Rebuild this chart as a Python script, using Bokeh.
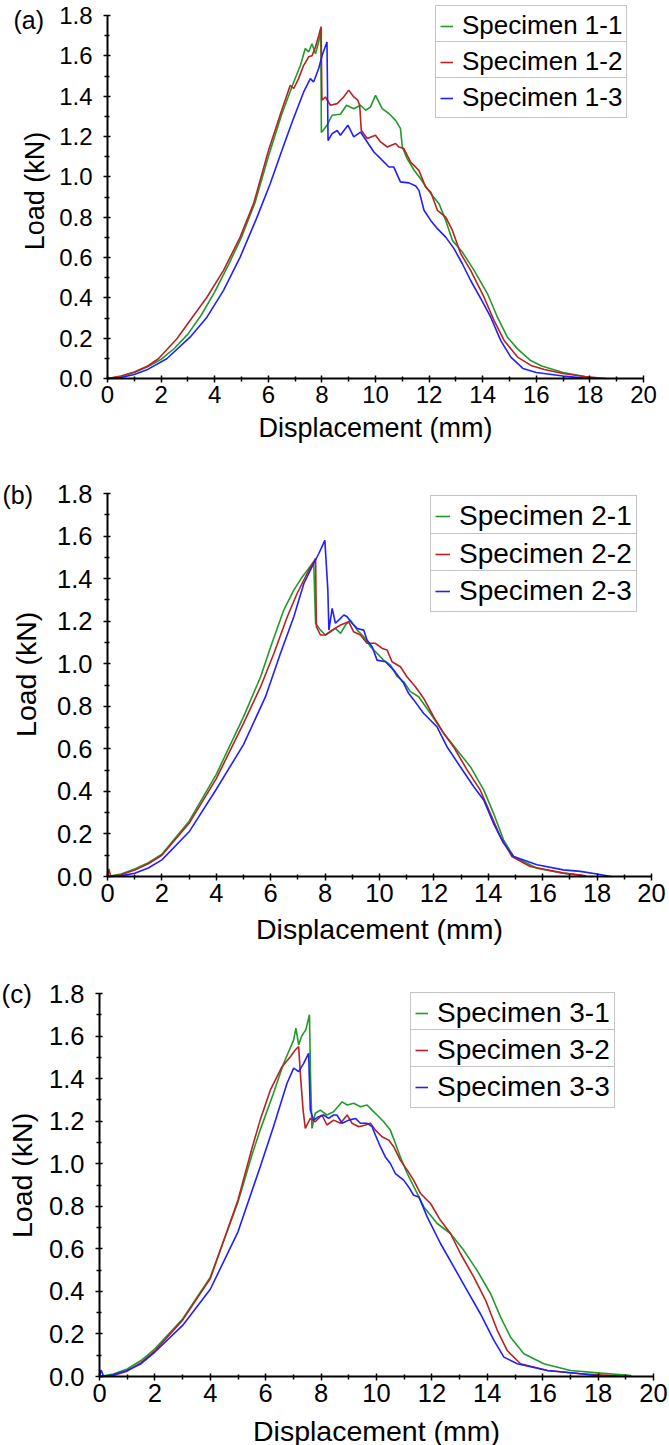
import math
from bokeh.plotting import figure
from bokeh.layouts import column
from bokeh.models import Range1d, Legend, LegendItem, Label, FixedTicker, NumeralTickFormatter
from bokeh.embed import file_html
from bokeh.resources import INLINE

# ---------------- data ----------------
x_ticks = [0, 2, 4, 6, 8, 10, 12, 14, 16, 18, 20]
x_minor = [1, 3, 5, 7, 9, 11, 13, 15, 17, 19]
y_ticks = [0.0, 0.2, 0.4, 0.6, 0.8, 1.0, 1.2, 1.4, 1.6, 1.8]
y_minor = [0.1, 0.3, 0.5, 0.7, 0.9, 1.1, 1.3, 1.5, 1.7]

panel_tags = ["(a)", "(b)", "(c)"]
x_title = "Displacement (mm)"
y_title = "Load (kN)"
labels_a = ["Specimen 1-1", "Specimen 1-2", "Specimen 1-3"]
labels_b = ["Specimen 2-1", "Specimen 2-2", "Specimen 2-3"]
labels_c = ["Specimen 3-1", "Specimen 3-2", "Specimen 3-3"]

# Panel (a)
x_1_1 = [0, 0.5, 1, 1.5, 2, 2.5, 3, 3.5, 4, 4.5, 5, 5.5, 6, 6.5, 6.95, 7.2, 7.38, 7.51, 7.63, 7.76, 7.88, 7.96,
         7.98, 8.1, 8.19, 8.38, 8.69, 8.92, 9.19, 9.44, 9.63, 9.81, 10.0, 10.25, 10.5, 10.75, 10.93, 11.0, 11.18,
         11.43, 11.68, 12.06, 12.37, 12.62, 12.87, 13.24, 13.68, 14.18, 14.55, 14.92, 15.3, 15.79, 16.2, 17.0,
         17.6, 18.2]
y_1_1 = [0.0, 0.01, 0.03, 0.058, 0.095, 0.15, 0.22, 0.315, 0.43, 0.56, 0.70, 0.87, 1.10, 1.31, 1.47, 1.553,
         1.636, 1.62, 1.66, 1.61, 1.67, 1.72, 1.22, 1.24, 1.256, 1.305, 1.31, 1.355, 1.338, 1.355, 1.33, 1.346,
         1.404, 1.338, 1.314, 1.28, 1.24, 1.148, 1.09, 1.035, 0.99, 0.917, 0.867, 0.784, 0.685, 0.627, 0.536,
         0.42, 0.304, 0.205, 0.147, 0.089, 0.062, 0.03, 0.015, 0.0]
x_1_2 = [0, 0.5, 1, 1.5, 1.9, 2.59, 3.08, 3.71, 4.33, 4.95, 5.45, 6.01, 6.5, 6.82, 6.95, 7.13, 7.32, 7.51, 7.63,
         7.76, 7.88, 7.97, 8.0, 8.13, 8.32, 8.57, 8.81, 9.0, 9.19, 9.34, 9.41, 9.47, 9.69, 10.0, 10.19, 10.44,
         10.75, 10.87, 11.06, 11.31, 11.62, 11.87, 12.06, 12.31, 12.62, 12.87, 13.18, 13.55, 14.05, 14.42, 14.8,
         15.3, 15.8, 16.3, 17.0, 17.8, 18.6]
y_1_2 = [0.0, 0.012, 0.032, 0.062, 0.098, 0.197, 0.288, 0.403, 0.536, 0.701, 0.867, 1.132, 1.33, 1.454, 1.438,
         1.487, 1.553, 1.595, 1.60, 1.644, 1.70, 1.745, 1.38, 1.396, 1.355, 1.363, 1.396, 1.43, 1.396, 1.38,
         1.355, 1.23, 1.19, 1.206, 1.173, 1.148, 1.165, 1.148, 1.14, 1.073, 1.032, 0.949, 0.925, 0.834, 0.80,
         0.734, 0.619, 0.536, 0.403, 0.288, 0.189, 0.106, 0.065, 0.045, 0.025, 0.01, 0.0]
x_1_3 = [0, 0.5, 1, 1.5, 2.21, 3.08, 3.71, 4.33, 4.95, 5.58, 6.07, 6.51, 6.89, 7.32, 7.57, 7.69, 7.88, 8.01,
         8.19, 8.23, 8.38, 8.57, 8.69, 8.97, 9.19, 9.44, 9.69, 9.94, 10.19, 10.5, 10.68, 10.93, 11.25, 11.5,
         11.62, 11.81, 12.06, 12.31, 12.62, 12.93, 13.24, 13.55, 13.93, 14.3, 14.67, 15.05, 15.5, 16.0, 17.0, 18.0]
y_1_3 = [0.0, 0.005, 0.02, 0.045, 0.098, 0.205, 0.304, 0.437, 0.602, 0.80, 0.966, 1.132, 1.272, 1.421, 1.487,
         1.47, 1.537, 1.603, 1.669, 1.18, 1.214, 1.23, 1.206, 1.256, 1.198, 1.222, 1.173, 1.123, 1.09, 1.049,
         1.049, 0.975, 0.97, 0.955, 0.933, 0.834, 0.784, 0.743, 0.701, 0.644, 0.569, 0.486, 0.396, 0.304, 0.189,
         0.106, 0.05, 0.03, 0.012, 0.0]

# Panel (b)
x_2_1 = [0, 0.5, 1, 1.5, 2, 3, 4, 5, 5.63, 6.0, 6.48, 6.85, 7.16, 7.58, 7.65, 7.83, 8.01, 8.2, 8.38, 8.57, 8.75,
         8.93, 9.18, 9.42, 9.67, 9.91, 10.15, 10.4, 10.65, 10.89, 11.13, 11.44, 11.87, 12.36, 12.85, 13.34, 13.83,
         14.19, 14.56, 14.93, 15.79, 16.76, 17.5]
y_2_1 = [0.0, 0.012, 0.035, 0.065, 0.105, 0.26, 0.48, 0.75, 0.939, 1.08, 1.252, 1.346, 1.408, 1.479, 1.19, 1.158,
         1.135, 1.15, 1.166, 1.143, 1.182, 1.205, 1.158, 1.127, 1.08, 1.049, 1.017, 0.994, 0.94, 0.915, 0.87,
         0.845, 0.767, 0.673, 0.595, 0.516, 0.407, 0.298, 0.172, 0.094, 0.039, 0.016, 0.005]
x_2_2 = [0, 0.05, 0.12, 0.5, 1, 1.5, 2, 3, 4, 5, 5.63, 6.12, 6.61, 6.97, 7.34, 7.65, 7.68, 7.83, 8.01, 8.26, 8.57,
         8.87, 9.05, 9.3, 9.54, 9.85, 10.1, 10.28, 10.46, 10.77, 11.01, 11.32, 11.62, 11.99, 12.36, 12.72, 13.22,
         13.7, 14.07, 14.44, 14.87, 15.54, 16.76, 17.6]
y_2_2 = [0.0, 0.035, 0.0, 0.008, 0.03, 0.06, 0.1, 0.25, 0.46, 0.72, 0.892, 1.049, 1.221, 1.33, 1.424, 1.495,
         1.174, 1.135, 1.135, 1.158, 1.182, 1.197, 1.15, 1.135, 1.096, 1.096, 1.072, 1.064, 1.009, 0.986, 0.939,
         0.892, 0.838, 0.751, 0.673, 0.61, 0.501, 0.407, 0.298, 0.188, 0.094, 0.047, 0.016, 0.003]
x_2_3 = [0, 0.5, 1, 1.5, 2, 3, 4, 5, 5.81, 6.36, 6.85, 7.22, 7.58, 7.77, 7.99, 8.1, 8.14, 8.26, 8.38, 8.5, 8.69,
         8.81, 8.99, 9.18, 9.42, 9.54, 9.73, 9.91, 10.22, 10.52, 10.89, 11.07, 11.26, 11.62, 12.11, 12.48, 12.97,
         13.46, 13.83, 14.19, 14.56, 14.93, 15.79, 16.76, 17.38, 18.0, 18.5]
y_2_3 = [0.0, 0.003, 0.015, 0.04, 0.078, 0.21, 0.41, 0.62, 0.845, 1.049, 1.221, 1.377, 1.471, 1.518, 1.58, 1.35,
         1.158, 1.26, 1.19, 1.205, 1.229, 1.221, 1.19, 1.166, 1.158, 1.111, 1.08, 1.017, 1.009, 0.97, 0.908,
         0.861, 0.83, 0.767, 0.704, 0.61, 0.516, 0.423, 0.36, 0.25, 0.157, 0.094, 0.055, 0.031, 0.024, 0.012, 0.0]

# Panel (c)
x_3_1 = [0, 0.5, 1, 1.5, 2, 3, 4, 5, 5.5, 5.8, 6.28, 6.65, 7.01, 7.09, 7.19, 7.3, 7.45, 7.58, 7.62, 7.67, 7.79,
         7.97, 8.21, 8.45, 8.76, 8.94, 9.18, 9.42, 9.66, 9.84, 10.02, 10.26, 10.5, 10.68, 10.86, 11.11, 11.23,
         11.71, 12.19, 12.67, 13.15, 13.63, 14.12, 14.48, 14.84, 15.32, 16.04, 17.0, 18.09, 19.2]
y_3_1 = [0.0, 0.012, 0.035, 0.075, 0.13, 0.27, 0.467, 0.82, 1.04, 1.158, 1.331, 1.472, 1.582, 1.637, 1.558, 1.60,
         1.63, 1.70, 1.40, 1.166, 1.237, 1.252, 1.229, 1.244, 1.291, 1.276, 1.284, 1.268, 1.276, 1.252, 1.229,
         1.197, 1.158, 1.096, 1.032, 0.954, 0.923, 0.797, 0.719, 0.672, 0.593, 0.499, 0.389, 0.279, 0.185, 0.107,
         0.06, 0.028, 0.016, 0.005]
x_3_2 = [0, 0.5, 1, 1.5, 2, 3, 4, 5, 5.5, 5.8, 6.17, 6.59, 6.89, 7.07, 7.19, 7.25, 7.35, 7.43, 7.61, 7.79, 8.03,
         8.21, 8.45, 8.7, 8.94, 9.12, 9.36, 9.6, 9.78, 9.96, 10.2, 10.44, 10.62, 10.86, 11.11, 11.34, 11.59, 11.95,
         12.31, 12.67, 13.03, 13.51, 13.94, 14.36, 14.72, 15.2, 16.17, 17.37, 18.3, 19.0]
y_3_2 = [0.0, 0.005, 0.025, 0.065, 0.12, 0.265, 0.46, 0.83, 1.07, 1.205, 1.347, 1.456, 1.503, 1.535, 1.55, 1.425,
         1.252, 1.166, 1.213, 1.197, 1.229, 1.182, 1.205, 1.19, 1.229, 1.19, 1.174, 1.182, 1.19, 1.158, 1.127,
         1.111, 1.08, 1.017, 0.97, 0.923, 0.86, 0.813, 0.734, 0.672, 0.578, 0.468, 0.358, 0.217, 0.122, 0.06,
         0.028, 0.013, 0.006, 0.0]
x_3_3 = [0, 0.06, 0.15, 0.5, 1, 1.5, 2, 3, 4, 5, 5.8, 6.28, 6.77, 7.01, 7.19, 7.37, 7.55, 7.61, 7.73, 7.91, 8.09,
         8.27, 8.45, 8.57, 8.76, 9.0, 9.24, 9.42, 9.66, 9.84, 9.96, 10.14, 10.32, 10.5, 10.68, 10.98, 11.16, 11.34,
         11.53, 11.83, 12.31, 12.79, 13.27, 13.75, 14.24, 14.6, 15.08, 16.17, 17.37, 18.2]
y_3_3 = [0.0, 0.03, 0.0, 0.008, 0.028, 0.06, 0.115, 0.24, 0.41, 0.68, 0.985, 1.174, 1.378, 1.449, 1.433, 1.472,
         1.519, 1.252, 1.205, 1.221, 1.229, 1.213, 1.229, 1.229, 1.19, 1.205, 1.213, 1.19, 1.19, 1.174, 1.135,
         1.08, 1.032, 1.001, 0.954, 0.923, 0.891, 0.852, 0.844, 0.75, 0.625, 0.515, 0.405, 0.295, 0.17, 0.091,
         0.06, 0.028, 0.013, 0.0]

COLORS = ["#229A2A", "#B82222", "#1F1FFF"]
FONT = "Liberation Sans"
W = 669


def make_panel(tag, series, labels, g):
    # the frame fills the whole figure; both axes are pinned at the data origin
    px_mm = (W - g["r"] - g["x0"]) / 20.0
    px_kn = (g["h"] - g["b"] - g["ytop"]) / 1.8

    def dx(px):      # pixel column -> data x
        return (px - g["x0"]) / px_mm

    def dy(py):      # pixel row (from top of figure) -> data y
        return 1.8 + (g["ytop"] - py) / px_kn

    p = figure(width=W, height=g["h"], output_backend="svg", toolbar_location=None,
               x_range=Range1d(dx(0), dx(W)), y_range=Range1d(dy(g["h"]), dy(0)),
               min_border_left=0, min_border_right=0, min_border_top=0, min_border_bottom=0)
    p.outline_line_color = None
    p.grid.visible = False
    p.background_fill_color = "white"
    p.border_fill_color = "white"

    rends = []
    for (xs, ys), c in zip(series, COLORS):
        rends.append(p.line(xs, ys, line_color=c, line_width=1.6))

    xa = p.xaxis[0]
    xa.ticker = FixedTicker(ticks=x_ticks, minor_ticks=x_minor)
    xa.bounds = (0, 20)
    xa.fixed_location = 0
    ya = p.yaxis[0]
    ya.ticker = FixedTicker(ticks=y_ticks, minor_ticks=y_minor)
    ya.formatter = NumeralTickFormatter(format="0.0")
    ya.bounds = (0, 1.8)
    ya.fixed_location = 0
    for ax in (xa, ya):
        ax.axis_line_width = 2
        ax.axis_line_color = "black"
        ax.major_tick_line_width = 1.5
        ax.minor_tick_line_width = 1.5
        ax.major_tick_line_color = "black"
        ax.minor_tick_line_color = "black"
        ax.major_tick_out = 4
        ax.major_tick_in = 3
        ax.minor_tick_out = 3
        ax.minor_tick_in = 2
        ax.major_label_text_font = FONT
        ax.major_label_text_font_size = g["tick_fs"]
        ax.major_label_text_color = "black"
    xa.major_label_standoff = 3
    ya.major_label_standoff = 11

    # axis titles
    p.add_layout(Label(x=10, y=dy(g["h"] - g["b"] + g["xt_off"]), text=x_title, text_font=FONT,
                       text_font_size=g["lab_fs"], text_align="center", text_baseline="middle",
                       text_color="black"))
    p.add_layout(Label(x=dx(g["yt_px"]), y=g["yt_y"], text=y_title, text_font=FONT,
                       text_font_size=g["lab_fs"], text_align="center", text_baseline="middle",
                       angle=math.pi / 2, text_color="black"))

    for i, (lab, r) in enumerate(zip(labels, rends)):
        leg = Legend(items=[LegendItem(label=lab, renderers=[r])],
                     location=(g["leg_x"], g["leg_y"][i] + g["b"]),
                     border_line_color="#8a8a8a", border_line_width=1.5,
                     background_fill_color="white", background_fill_alpha=1.0,
                     padding=g["leg_pad"], margin=0, spacing=0,
                     glyph_width=g["glyph_w"], glyph_height=20, label_height=20,
                     label_standoff=9,
                     label_text_font=FONT, label_text_font_size=g["leg_fs"],
                     label_text_color="black")
        p.add_layout(leg, "center")

    p.add_layout(Label(x=dx(g["tag_px"]), y=dy(g["tag_py"]),
                       text=tag, text_font=FONT, text_font_size=g["tag_fs"],
                       text_baseline="middle", text_align="left", text_color="black"))
    return p


geom_a = dict(h=480, r=26, b=102, x0=107, ytop=15, tick_fs="24px", lab_fs="27px", xt_off=49,
              yt_px=34, yt_y=0.93,
              leg_x=435, leg_y=[332, 296, 260], leg_pad=4, glyph_w=13, leg_fs="26px",
              tag_px=13, tag_py=19, tag_fs="25px")
geom_b = dict(h=480, r=18, b=84, x0=107, ytop=13, tick_fs="25.5px", lab_fs="28.5px", xt_off=52,
              yt_px=25, yt_y=0.95,
              leg_x=430, leg_y=[339, 301.5, 264], leg_pad=4, glyph_w=15, leg_fs="28px",
              tag_px=2, tag_py=14, tag_fs="25px")
geom_c = dict(h=485, r=16, b=69, x0=99, ytop=33, tick_fs="25.5px", lab_fs="28.5px", xt_off=54,
              yt_px=21, yt_y=0.945,
              leg_x=410, leg_y=[342, 305, 268], leg_pad=4, glyph_w=13, leg_fs="28px",
              tag_px=1, tag_py=33, tag_fs="26px")

pa = make_panel(panel_tags[0], [(x_1_1, y_1_1), (x_1_2, y_1_2), (x_1_3, y_1_3)], labels_a, geom_a)
pb = make_panel(panel_tags[1], [(x_2_1, y_2_1), (x_2_2, y_2_2), (x_2_3, y_2_3)], labels_b, geom_b)
pc = make_panel(panel_tags[2], [(x_3_1, y_3_1), (x_3_2, y_3_2), (x_3_3, y_3_3)], labels_c, geom_c)

layout = column(pa, pb, pc, spacing=0)
open("out.html", "w").write(file_html(layout, INLINE))
